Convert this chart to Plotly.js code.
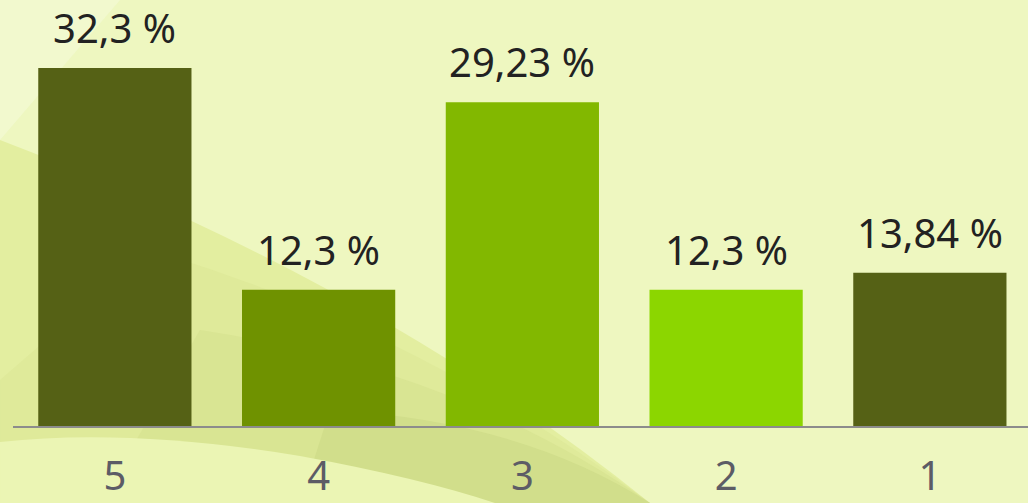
<!DOCTYPE html>
<html>
<head>
<meta charset="utf-8">
<script src="https://cdn.plot.ly/plotly-3.0.1.min.js"></script>
<style>
  html, body { margin: 0; padding: 0; overflow: hidden; background: #eef7c0; }
  #chart { width: 1028px; height: 503px; }
</style>
</head>
<body>
<div id="chart"></div>
<script>
const categories = ['5', '4', '3', '2', '1'];
const values = [32.3, 12.3, 29.23, 12.3, 13.84];
const valueLabels = ['32,3 %', '12,3 %', '29,23 %', '12,3 %', '13,84 %'];
const barColors = ['#556115', '#6f9200', '#82b800', '#8cd600', '#556115'];

// plot-area geometry (pixels)
const L = 13, R = 0, T = 0, B = 77, WIDTH = 1028, HEIGHT = 503;
const PW = WIDTH - L - R, PH = HEIGHT - T - B;

// convert page pixel positions of the decorative background into paper coords
function P(x, y) {
  return ((x - L) / PW).toFixed(4) + ',' + (1 - (y - T) / PH).toFixed(4);
}
function path(cmds) {
  return cmds.map(c => c[0] + (c.length > 1 ? ' ' + c.slice(1).map(p => P(p[0], p[1])).join(' ') : '')).join(' ');
}

const bgShapes = [
  // faint light upper-left glow
  { fill: '#f6fbe0', d: path([['M', [0, 0]], ['L', [120, 0]], ['Q', [60, 70], [0, 140]], ['Z']]), op: 0.45 },
  // mid band below the sweeping curve
  { fill: '#e3eea0', d: path([['M', [0, 140]], ['Q', [380, 285], [650, 503]], ['L', [0, 503]], ['Z']]), op: 1 },
  // gradual darker shading toward lower middle
  { fill: '#d6e38e', d: path([['M', [150, 250]], ['Q', [420, 330], [650, 503]], ['L', [0, 503]], ['L', [0, 380]], ['Z']]), op: 0.35 },
  { fill: '#d3e08c', d: path([['M', [200, 330]], ['Q', [460, 370], [650, 503]], ['L', [100, 503]], ['Z']]), op: 0.5 },
  { fill: '#cbd886', d: path([['M', [330, 410]], ['Q', [520, 420], [650, 503]], ['L', [300, 503]], ['Z']]), op: 0.6 },
  // light bottom-left arc
  { fill: '#ebf5b4', d: path([['M', [0, 442]], ['Q', [130, 428], [300, 456]], ['Q', [420, 478], [495, 503]], ['L', [0, 503]], ['Z']]), op: 1 }
];

const shapes = bgShapes.map(s => ({
  type: 'path', xref: 'paper', yref: 'paper', path: s.d,
  fillcolor: s.fill, opacity: s.op, line: { width: 0 }, layer: 'below'
}));

const annotations = categories.map((c, i) => ({
  x: i, y: values[i], xref: 'x', yref: 'y',
  text: valueLabels[i], showarrow: false, borderpad: 0,
  yanchor: 'bottom', xanchor: 'center', yshift: 12,
  font: { family: 'Noto Sans, sans-serif', size: 40, color: '#222222' }
}));

const trace = {
  type: 'bar', x: categories, y: values,
  marker: { color: barColors, line: { width: 0 } },
  hoverinfo: 'none'
};

const layout = {
  width: WIDTH, height: HEIGHT,
  margin: { l: L, r: R, t: T, b: B, pad: 0 },
  paper_bgcolor: '#eef7c0',
  plot_bgcolor: 'rgba(0,0,0,0)',
  bargap: 0.248,
  showlegend: false,
  xaxis: {
    type: 'category', range: [-0.5, 4.4816],
    showline: true, linecolor: '#8c8c8c', linewidth: 2,
    showgrid: false, zeroline: false, ticks: '',
    tickfont: { family: 'Noto Sans, sans-serif', size: 40, color: '#5c5c66' },
    ticklabelstandoff: 14
  },
  yaxis: {
    range: [0, PH / 11.08], visible: false, showgrid: false, zeroline: false
  },
  shapes: shapes,
  annotations: annotations
};

Plotly.newPlot('chart', [trace], layout, { displayModeBar: false, staticPlot: true });
</script>
</body>
</html>
